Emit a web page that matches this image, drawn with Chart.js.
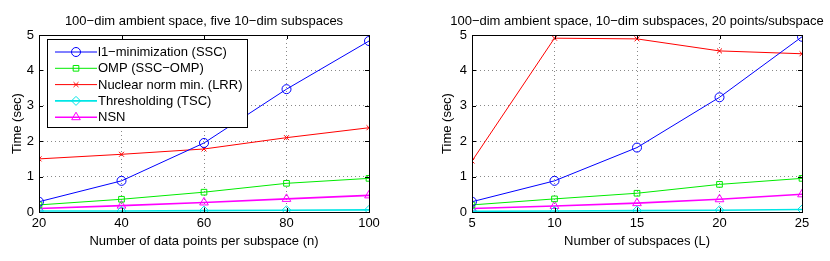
<!DOCTYPE html>
<html>
<head>
<meta charset="utf-8">
<script src="https://cdn.jsdelivr.net/npm/chart.js@4"></script>
<style>
  body { margin: 0; background: #fff; }
  .wrap { display: flex; width: 830px; height: 261px; }
  .box { position: relative; width: 415px; height: 261px; }
</style>
</head>
<body>
<div class="wrap">
  <div class="box"><canvas id="left"></canvas></div>
  <div class="box"><canvas id="right"></canvas></div>
</div>
<script>
// left plot: time vs points per subspace
const pointsPerSubspace = [20, 40, 60, 80, 100];
const leftSSC = [0.29, 0.88, 1.95, 3.47, 4.83];
const leftOMP = [0.20, 0.36, 0.56, 0.81, 0.95];
const leftLRR = [1.50, 1.63, 1.78, 2.10, 2.38];
const leftTSC = [0.03, 0.03, 0.04, 0.05, 0.06];
const leftNSN = [0.10, 0.18, 0.27, 0.37, 0.47];

// right plot: time vs number of subspaces
const numSubspaces = [5, 10, 15, 20, 25];
const rightSSC = [0.29, 0.88, 1.82, 3.24, 4.95];
const rightOMP = [0.20, 0.37, 0.53, 0.78, 0.95];
const rightLRR = [1.44, 4.91, 4.89, 4.55, 4.47];
const rightTSC = [0.02, 0.03, 0.04, 0.05, 0.07];
const rightNSN = [0.10, 0.17, 0.25, 0.36, 0.50];

const methodNames = ['l1\u2212minimization (SSC)', 'OMP (SSC\u2212OMP)', 'Nuclear norm min. (LRR)', 'Thresholding (TSC)', 'NSN'];
const colors = ['rgb(0,0,255)', 'rgb(0,235,0)', 'rgb(255,0,0)', 'rgb(0,230,230)', 'rgb(255,0,255)'];
const markers = ['circle', 'rect', 'crossRot', 'rectRot', 'triangle'];
const markerSize = [4.5, 4, 3.5, 4.5, 5];

const FONT = '"Liberation Sans", Arial, Helvetica, sans-serif';
Chart.defaults.font.family = FONT;
Chart.defaults.color = '#000';

function makeDatasets(xs, series) {
  return series.map((ys, i) => ({
    label: methodNames[i],
    data: xs.map((x, j) => ({ x: x, y: ys[j] })),
    borderColor: colors[i],
    backgroundColor: 'rgba(0,0,0,0)',
    borderWidth: i >= 3 ? 1.6 : 1,
    pointStyle: markers[i],
    pointRadius: markerSize[i],
    pointBorderWidth: 1,
    pointBorderColor: colors[i],
    tension: 0
  }));
}

// frame, inward ticks, title
const framePlugin = {
  id: 'frame',
  afterDraw(chart, args, opts) {
    const c = chart.ctx, a = chart.chartArea;
    c.save();
    c.strokeStyle = '#000';
    c.lineWidth = 1;
    c.strokeRect(Math.round(a.left) + 0.5, Math.round(a.top) + 0.5, Math.round(a.right - a.left), Math.round(a.bottom - a.top));
    const xs = chart.scales.x, ys = chart.scales.y;
    c.beginPath();
    xs.ticks.forEach(t => {
      const px = Math.round(xs.getPixelForValue(t.value)) + 0.5;
      c.moveTo(px, a.bottom); c.lineTo(px, a.bottom - 4);
      c.moveTo(px, a.top); c.lineTo(px, a.top + 4);
    });
    ys.ticks.forEach(t => {
      const py = Math.round(ys.getPixelForValue(t.value)) + 0.5;
      c.moveTo(a.left, py); c.lineTo(a.left + 4, py);
      c.moveTo(a.right, py); c.lineTo(a.right - 4, py);
    });
    c.stroke();
    c.fillStyle = '#000';
    c.font = '13px ' + FONT;
    c.textAlign = 'center';
    c.textBaseline = 'middle';
    c.fillText(opts.text, (a.left + a.right) / 2, 21);
    c.restore();
  }
};

// legend box drawn inside the plot area
const insideLegend = {
  id: 'insideLegend',
  afterDraw(chart, args, opts) {
    if (!opts.show) return;
    const c = chart.ctx;
    const x0 = 47, y0 = 39, w = 200, h = 88;
    c.save();
    c.fillStyle = '#fff';
    c.fillRect(x0, y0, w, h);
    c.strokeStyle = '#000';
    c.lineWidth = 1;
    c.strokeRect(x0 + 0.5, y0 + 0.5, w, h);
    c.font = '13px ' + FONT;
    c.textBaseline = 'middle';
    chart.data.datasets.forEach((ds, i) => {
      const y = y0 + 13 + i * 16.3;
      c.strokeStyle = ds.borderColor;
      c.lineWidth = ds.borderWidth;
      c.beginPath();
      c.moveTo(x0 + 8, y); c.lineTo(x0 + 50, y);
      c.stroke();
      c.lineWidth = 1;
      c.fillStyle = 'rgba(0,0,0,0)';
      Chart.helpers.drawPoint(c, { pointStyle: ds.pointStyle, radius: ds.pointRadius, borderWidth: 1 }, x0 + 29, y);
      c.fillStyle = '#000';
      c.textAlign = 'left';
      c.fillText(ds.label, x0 + 51, y + 0.5);
    });
    c.restore();
  }
};

function makeChart(id, xs, series, cfg) {
  return new Chart(document.getElementById(id), {
    type: 'line',
    data: { datasets: makeDatasets(xs, series) },
    plugins: [framePlugin, insideLegend],
    options: {
      responsive: true,
      maintainAspectRatio: false,
      animation: false,
      layout: { padding: { left: cfg.padLeft, right: cfg.padRight, top: 35, bottom: 10 } },
      plugins: {
        legend: { display: false },
        tooltip: { enabled: false },
        frame: { text: cfg.title },
        insideLegend: { show: cfg.legend }
      },
      scales: {
        x: {
          type: 'linear',
          min: xs[0], max: xs[xs.length - 1],
          afterBuildTicks: s => { s.ticks = xs.map(v => ({ value: v })); },
          afterFit: s => { s.height = 39; },
          grid: { color: '#888', drawTicks: false, lineWidth: 1 },
          border: { display: false, dash: [1, 3] },
          ticks: { font: { size: 13 }, padding: 4, maxRotation: 0 },
          title: { display: true, text: cfg.xTitle, font: { size: 13 }, padding: { top: 0, bottom: 2 } }
        },
        y: {
          min: 0, max: 5,
          afterFit: s => { s.width = cfg.yWidth; },
          grid: { color: '#888', drawTicks: false, lineWidth: 1 },
          border: { display: false, dash: [1, 3] },
          ticks: { stepSize: 1, font: { size: 13 }, padding: 5 },
          title: { display: true, text: 'Time (sec)', font: { size: 13 }, padding: { top: 2, bottom: 2 } }
        }
      }
    }
  });
}

makeChart('left', pointsPerSubspace, [leftSSC, leftOMP, leftLRR, leftTSC, leftNSN], {
  title: '100\u2212dim ambient space, five 10\u2212dim subspaces',
  xTitle: 'Number of data points per subspace (n)',
  padLeft: 8, padRight: 46, yWidth: 31, legend: true
});
makeChart('right', numSubspaces, [rightSSC, rightOMP, rightLRR, rightTSC, rightNSN], {
  title: '100\u2212dim ambient space, 10\u2212dim subspaces, 20 points/subspace',
  xTitle: 'Number of subspaces (L)',
  padLeft: 23, padRight: 28, yWidth: 34, legend: false
});
</script>
</body>
</html>
